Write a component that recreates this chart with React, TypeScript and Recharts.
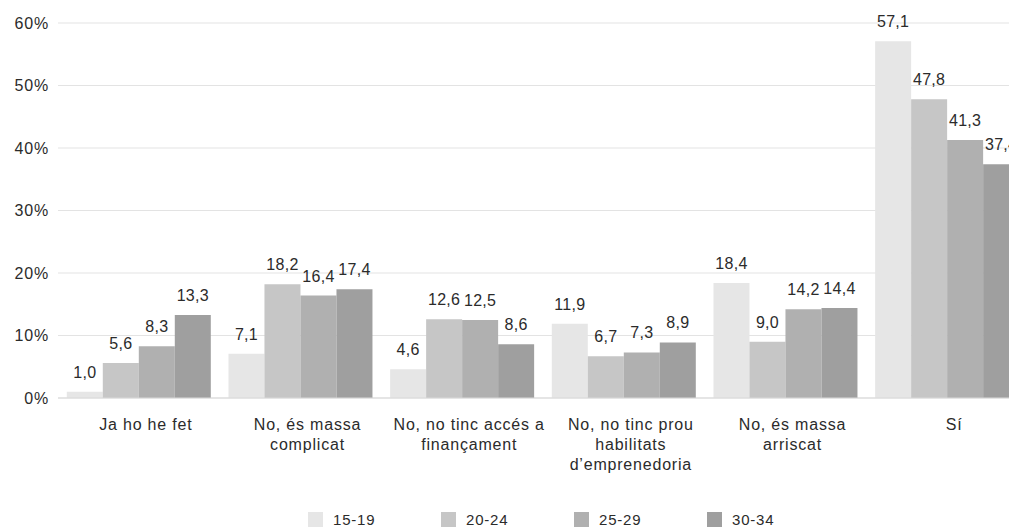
import React from "react";
import { BarChart, Bar, XAxis, YAxis, CartesianGrid, LabelList, Legend } from "recharts";

const categories = [
  "Ja ho he fet",
  "No, és massa\ncomplicat",
  "No, no tinc accés a\nfinançament",
  "No, no tinc prou\nhabilitats\nd’emprenedoria",
  "No, és massa\narriscat",
  "Sí",
];
const s1519 = [1.0, 7.1, 4.6, 11.9, 18.4, 57.1];
const s2024 = [5.6, 18.2, 12.6, 6.7, 9.0, 47.8];
const s2529 = [8.3, 16.4, 12.5, 7.3, 14.2, 41.3];
const s3034 = [13.3, 17.4, 8.6, 8.9, 14.4, 37.4];
const seriesNames = ["15-19", "20-24", "25-29", "30-34"];
const yTicks = [0, 10, 20, 30, 40, 50, 60];

const colors = ["#e6e6e6", "#c6c6c6", "#b0b0b0", "#9f9f9f"];
const FONT = "'Liberation Sans', Arial, Helvetica, sans-serif";
const TEXT = "#2b2b2b";
const FS = 16;
const LS = 0.8;

const data = categories.map((c, i) => ({
  cat: c,
  a: s1519[i],
  b: s2024[i],
  c: s2529[i],
  d: s3034[i],
}));
const keys = ["a", "b", "c", "d"];

const fmt = (v: any) => Number(v).toFixed(1).replace(".", ",");

const XTick = (props: any) => {
  const { x, y, payload } = props;
  const lines = String(payload.value).split("\n");
  return (
    <g transform={`translate(${x + 7},${y})`}>
      {lines.map((l, i) => (
        <text
          key={i}
          x={0}
          y={0}
          dy={24 + i * 20}
          textAnchor="middle"
          fill={TEXT}
          fontSize={FS}
          letterSpacing={LS}
          fontFamily={FONT}
        >
          {l}
        </text>
      ))}
    </g>
  );
};

const YTick = (props: any) => {
  const { x, y, payload } = props;
  return (
    <text
      x={x - 1}
      y={y}
      dy={5.5}
      textAnchor="end"
      fill={TEXT}
      fontSize={FS}
      letterSpacing={LS}
      fontFamily={FONT}
    >
      {`${payload.value}%`}
    </text>
  );
};

const LegendContent = () => (
  <div style={{ position: "relative", height: 30, fontFamily: FONT, fontSize: 15, letterSpacing: LS, color: TEXT }}>
    {seriesNames.map((n, i) => (
      <div
        key={n}
        style={{
          position: "absolute",
          left: 308 + i * 133,
          top: 10,
          display: "flex",
          alignItems: "center",
          height: 15,
        }}
      >
        <span style={{ display: "inline-block", width: 15, height: 15, background: colors[i], marginRight: 10 }} />
        <span>{n}</span>
      </div>
    ))}
  </div>
);

export default function App() {
  return (
    <div style={{ margin: "-8px 0 0 -8px", width: 1017, height: 532, overflow: "hidden", background: "#fff" }}>
      <BarChart
        width={1040}
        height={532}
        data={data}
        margin={{ top: 23, right: 12, left: 0, bottom: 0 }}
        barGap={0}
        barCategoryGap={8.8}
      >
        <CartesianGrid vertical={false} stroke="#e3e3e3" />
        <XAxis
          dataKey="cat"
          tick={<XTick />}
          tickLine={false}
          axisLine={{ stroke: "#d9d9d9" }}
          height={104}
          interval={0}
        />
        <YAxis
          width={58}
          domain={[0, 60]}
          ticks={yTicks}
          tick={<YTick />}
          axisLine={false}
          tickLine={false}
        />
        <Legend
          verticalAlign="bottom"
          height={30}
          wrapperStyle={{ left: 0, bottom: 0, width: 1040 }}
          content={<LegendContent />}
        />
        {keys.map((k, i) => (
          <Bar key={k} dataKey={k} name={seriesNames[i]} fill={colors[i]} isAnimationActive={false}>
            <LabelList
              dataKey={k}
              position="top"
              offset={14}
              formatter={fmt}
              fill={TEXT}
              fontSize={16}
              letterSpacing={0.3}
              fontFamily={FONT}
            />
          </Bar>
        ))}
      </BarChart>
    </div>
  );
}
